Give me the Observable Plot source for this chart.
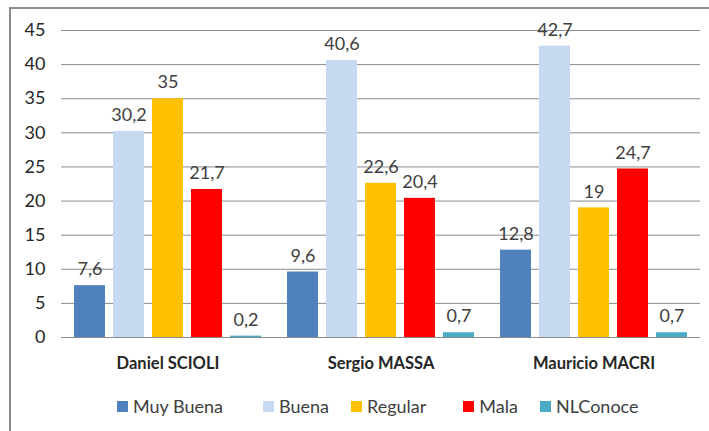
<!DOCTYPE html>
<html>
<head>
<meta charset="utf-8">
<script src="https://cdn.jsdelivr.net/npm/d3@7"></script>
<script src="https://cdn.jsdelivr.net/npm/@observablehq/plot@0.6"></script>
<style>
  html, body { margin: 0; padding: 0; background: #fff; }
  body { width: 709px; height: 431px; overflow: hidden; position: relative; font-family: Lato, "Open Sans", sans-serif; }
  #frame { position: absolute; left: 9px; top: 7px; width: 720px; height: 440px; border-top: 2px solid #8c8c8c; border-left: 2px solid #8c8c8c; }
  #chart { position: absolute; left: 0; top: 0; }
  #legend { position: absolute; left: 117px; top: 395px; display: flex; align-items: center; font-size: 18px; color: #404040; }
  .item { display: flex; align-items: center; margin-right: 22px; }
  .item.i0 { margin-right: 40px; }
  .item.i2 { margin-right: 37px; }
  .sw { width: 11px; height: 11px; margin-right: 5px; }
</style>
</head>
<body>
<div id="frame"></div>
<div id="chart"></div>
<div id="legend"></div>
<script>
const candidates = ["Daniel SCIOLI", "Sergio MASSA", "Mauricio MACRI"];
const series = ["Muy Buena", "Buena", "Regular", "Mala", "NLConoce"];
const colors = ["#4F81BD", "#C6D9F1", "#FFC000", "#FF0000", "#4BACC6"];
const muyBuena = [7.6, 9.6, 12.8];
const buena = [30.2, 40.6, 42.7];
const regular = [35, 22.6, 19];
const mala = [21.7, 20.4, 24.7];
const nlConoce = [0.2, 0.7, 0.7];
const yTicks = [0, 5, 10, 15, 20, 25, 30, 35, 40, 45];

const seriesValues = [muyBuena, buena, regular, mala, nlConoce];
const data = [];
candidates.forEach((c, i) => {
  series.forEach((s, j) => {
    data.push({candidate: c, series: s, value: seriesValues[j][i]});
  });
});
const fmt = v => String(v).replace(".", ",");

const chart = Plot.plot({
  width: 709,
  height: 385,
  marginLeft: 60,
  marginRight: 9,
  marginTop: 30,
  marginBottom: 48,
  style: { fontFamily: "Lato, 'Open Sans', sans-serif", background: "transparent", color: "#262626" },
  fx: { domain: candidates, padding: 0, label: null },
  x: { domain: series, paddingInner: 0.2, paddingOuter: 0.3, axis: null },
  y: { domain: [0, 45], axis: null },
  color: { domain: series, range: colors },
  marks: [
    Plot.ruleY(yTicks, { stroke: "#8c8c8c", strokeWidth: 1 }),
    Plot.barY(data, { fx: "candidate", x: "series", y: "value", fill: "series" }),
    Plot.text(data, { fx: "candidate", x: "series", y: "value", text: d => fmt(d.value), dy: -16, fontSize: 18, fill: "#404040" }),
    Plot.axisY({ ticks: yTicks, tickSize: 0, tickPadding: 16, fontSize: 18, label: null, tickFormat: d => String(d), facetAnchor: "left" }),
    Plot.axisFx({ anchor: "bottom", tickSize: 0, tickPadding: 20, fontSize: 16.5, fontWeight: "bold", label: null })
  ]
});
document.getElementById("chart").appendChild(chart);

const legend = document.getElementById("legend");
series.forEach((s, i) => {
  const it = document.createElement("div");
  it.className = "item i" + i;
  const sw = document.createElement("div");
  sw.className = "sw";
  sw.style.background = colors[i];
  const t = document.createElement("span");
  t.textContent = s;
  it.appendChild(sw);
  it.appendChild(t);
  legend.appendChild(it);
});
</script>
</body>
</html>
